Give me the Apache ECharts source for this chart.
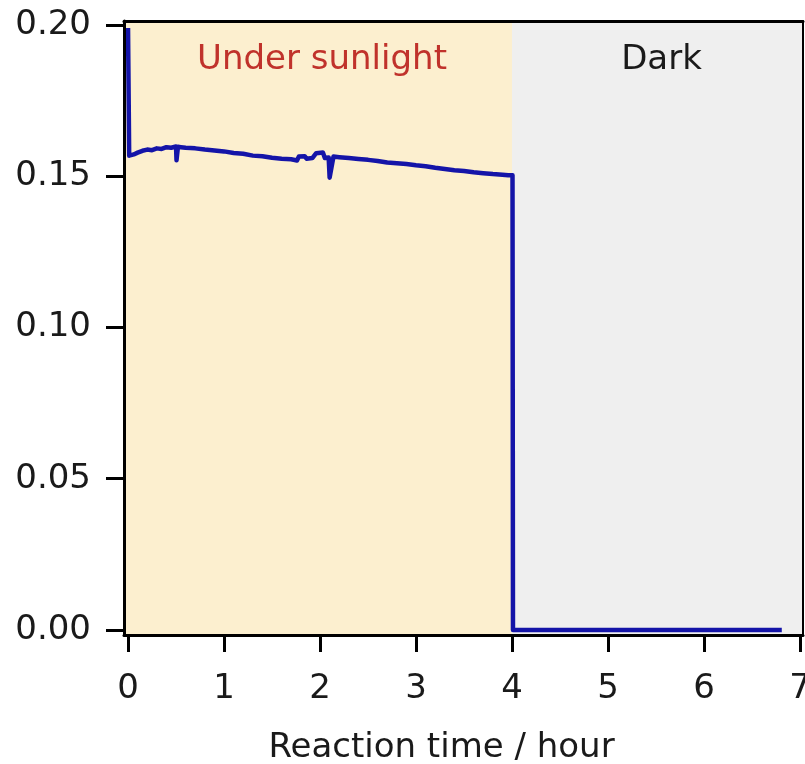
<!DOCTYPE html>
<html>
<head>
<meta charset="utf-8">
<script src="https://cdn.jsdelivr.net/npm/echarts@6/dist/echarts.min.js"></script>
<style>html,body{margin:0;padding:0;background:#fff}#c{width:805px;height:764px}</style>
</head>
<body>
<div id="c"></div>
<script>
// Reaction time (hour)
var timeHours = [0.0, 0.004, 0.012, 0.03, 0.06, 0.1, 0.15, 0.2, 0.25, 0.3, 0.35, 0.4, 0.45, 0.5, 0.505, 0.515, 0.52, 0.55, 0.6, 0.7, 0.8, 0.9, 1.0, 1.1, 1.2, 1.3, 1.4, 1.5, 1.6, 1.7, 1.76, 1.78, 1.84, 1.86, 1.92, 1.96, 1.98, 2.03, 2.05, 2.09, 2.1, 2.12, 2.14, 2.2, 2.3, 2.4, 2.5, 2.6, 2.7, 2.8, 2.9, 3.0, 3.1, 3.2, 3.3, 3.4, 3.5, 3.6, 3.7, 3.8, 3.9, 3.96, 4.005, 4.01, 4.5, 5.0, 5.5, 6.0, 6.5, 6.81];
// Signal
var signal = [0.199, 0.1995, 0.1568, 0.1562, 0.1572, 0.1578, 0.1584, 0.1588, 0.1586, 0.1592, 0.1590, 0.1596, 0.1594, 0.1598, 0.1553, 0.1553, 0.1597, 0.1596, 0.1594, 0.1592, 0.1588, 0.1585, 0.1582, 0.1577, 0.1574, 0.1568, 0.1566, 0.1561, 0.1558, 0.1556, 0.1552, 0.1565, 0.1566, 0.1558, 0.1560, 0.1576, 0.1580, 0.1578, 0.1560, 0.1562, 0.1495, 0.1495, 0.1565, 0.1563, 0.1560, 0.1557, 0.1554, 0.1550, 0.1545, 0.1543, 0.1540, 0.1536, 0.1533, 0.1528, 0.1524, 0.1520, 0.1517, 0.1513, 0.1510, 0.1507, 0.1505, 0.1503, 0.1503, 0.0, 0.0, 0.0, 0.0, 0.0, 0.0, 0.0];
var yTicks = [0, 0.05, 0.10, 0.15, 0.20];
var xTicks = [0, 1, 2, 3, 4, 5, 6, 7];
var regionNames = ['Under sunlight', 'Dark'];
var regionBounds = [[-0.042, 4], [4, 7.031]];

var FONT = 'DejaVu Sans';
var xMin = -0.042, xMax = 7.031, yMin = -0.00165, yMax = 0.2013;

var data = timeHours.map(function (t, i) { return [t, signal[i]]; });

var chart = echarts.init(document.getElementById('c'), null, {renderer: 'canvas'});
chart.setOption({
  animation: false,
  backgroundColor: '#fff',
  grid: {left: 124, right: 2, top: 21, bottom: 129, containLabel: false, outerBoundsMode: 'none'},
  xAxis: [{
    type: 'value', min: xMin, max: xMax, interval: 1, z: 10,
    name: 'Reaction time / hour', nameLocation: 'middle', nameGap: 96,
    nameTextStyle: {fontFamily: FONT, fontSize: 34, color: '#1a1a1a', padding: [0, 44, 0, 0]},
    axisLine: {show: true, onZero: false, lineStyle: {color: '#000', width: 3}},
    axisTick: {show: true, inside: false, length: 17, lineStyle: {color: '#000', width: 3},
      customValues: xTicks},
    axisLabel: {fontFamily: FONT, fontSize: 34, color: '#1a1a1a', margin: 37,
      customValues: xTicks, formatter: function (v) { return String(Math.round(v)); }},
    splitLine: {show: false}
  }, {
    type: 'value', position: 'top', min: xMin, max: xMax, z: 10,
    axisLine: {show: true, onZero: false, lineStyle: {color: '#000', width: 3}},
    axisTick: {show: false}, axisLabel: {show: false}, splitLine: {show: false}
  }],
  yAxis: [{
    type: 'value', min: yMin, max: yMax, z: 10,
    axisLine: {show: true, onZero: false, lineStyle: {color: '#000', width: 3}},
    axisTick: {show: true, inside: false, length: 18, lineStyle: {color: '#000', width: 3},
      customValues: yTicks},
    axisLabel: {fontFamily: FONT, fontSize: 34, color: '#1a1a1a', margin: 33,
      customValues: yTicks, formatter: function (v) { return v.toFixed(2); }},
    splitLine: {show: false}
  }, {
    type: 'value', position: 'right', min: yMin, max: yMax, z: 10,
    axisLine: {show: true, onZero: false, lineStyle: {color: '#000', width: 2}},
    axisTick: {show: false}, axisLabel: {show: false}, splitLine: {show: false}
  }],
  series: [{
    type: 'line',
    xAxisIndex: 0, yAxisIndex: 0,
    data: data,
    showSymbol: false,
    symbol: 'none',
    lineStyle: {color: '#1414a8', width: 4.5, join: 'round'},
    z: 5,
    markArea: {
      silent: true,
      data: [
        [{xAxis: regionBounds[0][0], name: regionNames[0],
          itemStyle: {color: '#fcefcf'},
          label: {color: '#c0322b'}},
         {xAxis: regionBounds[0][1]}],
        [{xAxis: regionBounds[1][0], name: regionNames[1],
          itemStyle: {color: '#efefef'},
          label: {color: '#1a1a1a'}},
         {xAxis: regionBounds[1][1]}]
      ],
      label: {show: true, position: 'insideTop', distance: 22, offset: [4, 0],
        fontFamily: FONT, fontSize: 34}
    }
  }]
});
</script>
</body>
</html>
